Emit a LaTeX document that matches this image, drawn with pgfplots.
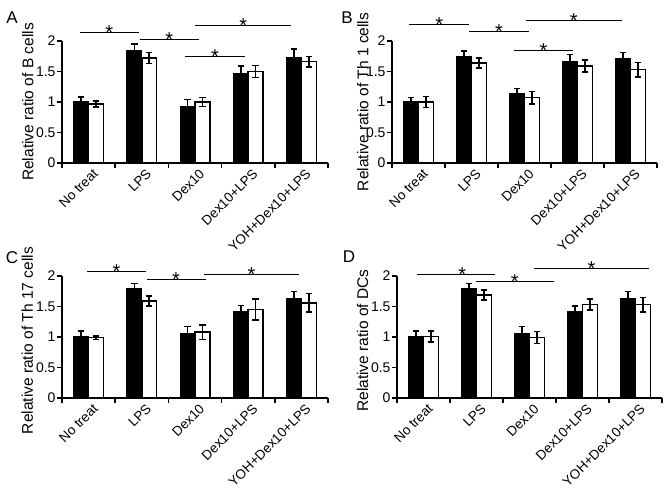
\documentclass[border=0pt]{standalone}
\usepackage{fontspec}
\setmainfont{Liberation Sans}
\usepackage{pgfplots}
\pgfplotsset{compat=1.18}
\newcommand{\fs}[1]{\fontsize{#1}{#1}\selectfont}
\pgfplotsset{
 panel/.style={
  scale only axis, width=266pt, height=122pt,
  xmin=-0.5, xmax=4.5, ymin=0, ymax=2,
  axis x line*=bottom, axis y line*=left,
  axis line style={line width=1.8pt, -},
  xtick={0,1,2,3,4},
  xticklabels={No treat,LPS,Dex10,Dex10+LPS,YOH+Dex10+LPS},
  ytick={0,0.5,1,1.5,2},
  yticklabels={0,0.5,1,1.5,2},
  minor xtick={-0.5,0.5,1.5,2.5,3.5,4.5},
  minor ytick={0,0.5,1,1.5,2},
  major tick length=0pt, minor tick length=5pt,
  tick align=outside,
  minor tick style={line width=1.5pt, black},
  xticklabel style={rotate=45, anchor=north east, font=\fs{13.5}, inner sep=1pt, yshift=-5pt},
  yticklabel style={font=\fs{14}, xshift=-3pt},
  ylabel style={font=\fs{15.5}, anchor=center, rotate=0},
  clip=false,
  bar width=0.28,
 },
 blk/.style={ybar, fill=black, draw=black, line width=1.2pt, bar shift=0pt,
  error bars/.cd, y dir=both, y explicit,
  error bar style={line width=1.5pt, black},
  error mark options={rotate=90, mark size=3.2pt, line width=1.5pt, black}},
 wht/.style={ybar, fill=white, draw=black, line width=1.5pt, bar shift=0pt,
  error bars/.cd, y dir=both, y explicit,
  error bar style={line width=1.5pt, black},
  error mark options={rotate=90, mark size=3.2pt, line width=1.5pt, black}},
 sig/.style={black, line width=1pt, mark=none, forget plot},
}
\newcommand{\sigstar}[2]{\node[font=\fs{20}, anchor=base, inner sep=0pt, yshift=-7pt] at (axis cs:#1,#2) {*};}
\begin{document}
\begin{tikzpicture}
\path[use as bounding box] (0,0) rectangle (669pt,-490pt);
\node[font=\fs{17}] at (12pt,-18pt) {A};
\node[font=\fs{17}] at (347pt,-18pt) {B};
\node[font=\fs{17}] at (12pt,-258pt) {C};
\node[font=\fs{17}] at (349pt,-257pt) {D};
% Panel A
\begin{axis}[panel, at={(62pt,-163pt)}, anchor=south west,
  ylabel={Relative ratio of B cells},
  ylabel style={at={(axis description cs:-0.128,0.5)}}]
\addplot[blk] table[x=x,y=y,y error=e] {
x y e
-0.14 1.00 0.08
0.86 1.85 0.10
1.86 0.93 0.11
2.86 1.47 0.12
3.86 1.73 0.14
};
\addplot[wht] table[x=x,y=y,y error=e] {
x y e
0.14 0.97 0.05
1.14 1.72 0.09
2.14 1.00 0.07
3.14 1.50 0.10
4.14 1.66 0.09
};
\addplot[sig] coordinates {(-0.16,2.14) (0.94,2.14)};
\addplot[sig] coordinates {(0.96,2.03) (2.07,2.03)};
\addplot[sig] coordinates {(2.0,2.26) (3.81,2.26)};
\addplot[sig] coordinates {(1.81,1.74) (2.94,1.74)};
\sigstar{0.39}{2.14}\sigstar{1.515}{2.03}\sigstar{2.905}{2.26}\sigstar{2.375}{1.74}
\end{axis}
% Panel B
\begin{axis}[panel, width=265pt, at={(392pt,-163pt)}, anchor=south west,
  ylabel={Relative ratio of Th 1 cells},
  ylabel style={at={(axis description cs:-0.11,0.5)}}]
\addplot[blk] table[x=x,y=y,y error=e] {
x y e
-0.14 1.00 0.07
0.86 1.74 0.10
1.86 1.14 0.08
2.86 1.67 0.11
3.86 1.71 0.10
};
\addplot[wht] table[x=x,y=y,y error=e] {
x y e
0.14 1.00 0.09
1.14 1.64 0.08
2.14 1.07 0.10
3.14 1.59 0.10
4.14 1.53 0.12
};
\addplot[sig] coordinates {(-0.17,2.27) (0.95,2.27)};
\addplot[sig] coordinates {(0.96,2.15) (2.08,2.15)};
\addplot[sig] coordinates {(2.02,2.33) (3.84,2.33)};
\addplot[sig] coordinates {(1.81,1.85) (2.91,1.85)};
\sigstar{0.39}{2.27}\sigstar{1.52}{2.15}\sigstar{2.93}{2.33}\sigstar{2.36}{1.85}
\end{axis}
% Panel C
\begin{axis}[panel, at={(62pt,-398pt)}, anchor=south west,
  ylabel={Relative ratio of Th 17 cells},
  ylabel style={at={(axis description cs:-0.13,0.47)}}]
\addplot[blk] table[x=x,y=y,y error=e] {
x y e
-0.14 1.00 0.10
0.86 1.80 0.08
1.86 1.06 0.11
2.86 1.41 0.11
3.86 1.63 0.12
};
\addplot[wht] table[x=x,y=y,y error=e] {
x y e
0.14 0.99 0.03
1.14 1.59 0.08
2.14 1.08 0.12
3.14 1.45 0.17
4.14 1.56 0.15
};
\addplot[sig] coordinates {(-0.03,2.07) (1.08,2.07)};
\addplot[sig] coordinates {(1.09,1.95) (2.20,1.95)};
\addplot[sig] coordinates {(2.16,2.03) (3.96,2.03)};
\sigstar{0.525}{2.07}\sigstar{1.645}{1.95}\sigstar{3.06}{2.03}
\end{axis}
% Panel D
\begin{axis}[panel, width=265pt, at={(397pt,-398pt)}, anchor=south west,
  ylabel={Relative ratio of DCs},
  ylabel style={at={(axis description cs:-0.13,0.47)}}]
\addplot[blk] table[x=x,y=y,y error=e] {
x y e
-0.14 1.00 0.10
0.86 1.80 0.08
1.86 1.06 0.11
2.86 1.41 0.10
3.86 1.63 0.12
};
\addplot[wht] table[x=x,y=y,y error=e] {
x y e
0.14 1.01 0.09
1.14 1.69 0.08
2.14 0.99 0.10
3.14 1.53 0.09
4.14 1.53 0.12
};
\addplot[sig] coordinates {(-0.12,2.03) (1.34,2.03)};
\addplot[sig] coordinates {(0.99,1.91) (2.47,1.91)};
\addplot[sig] coordinates {(2.09,2.13) (4.25,2.13)};
\sigstar{0.73}{2.03}\sigstar{1.72}{1.91}\sigstar{3.17}{2.13}
\end{axis}
\end{tikzpicture}
\end{document}
